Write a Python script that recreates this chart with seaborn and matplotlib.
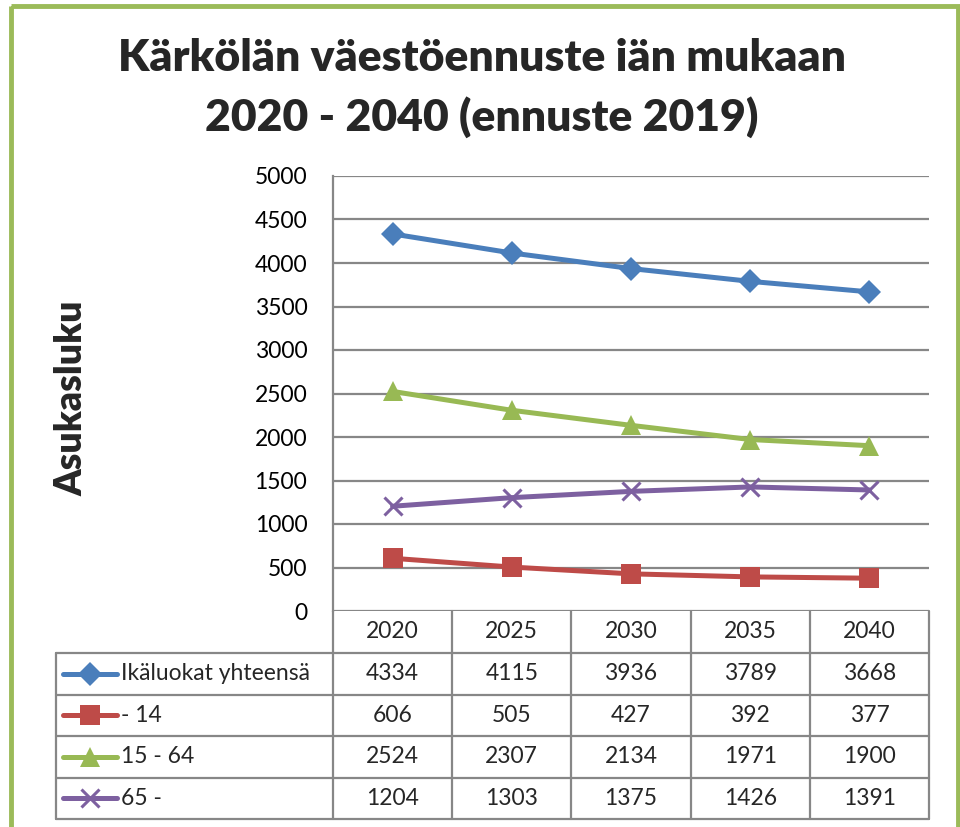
import matplotlib
matplotlib.use("Agg")
import matplotlib.pyplot as plt
import matplotlib.transforms as mtransforms
from matplotlib.patches import Rectangle
import seaborn as sns
import pandas as pd

# Données
years = [2020, 2025, 2030, 2035, 2040]
series_names = ["Ikäluokat yhteensä", "- 14", "15 - 64", "65 -"]
total = [4334, 4115, 3936, 3789, 3668]
age_0_14 = [606, 505, 427, 392, 377]
age_15_64 = [2524, 2307, 2134, 1971, 1900]
age_65 = [1204, 1303, 1375, 1426, 1391]
y_ticks = [0, 500, 1000, 1500, 2000, 2500, 3000, 3500, 4000, 4500, 5000]
title_lines = ["Kärkölän väestöennuste iän mukaan", "2020 - 2040 (ennuste 2019)"]
y_label = "Asukasluku"

colors = ["#4A7EBB", "#BE4B48", "#98B954", "#7D60A0"]
markers = ["D", "s", "^", "x"]
marker_sizes = [12, 14, 14, 13]

values = [total, age_0_14, age_15_64, age_65]
df = pd.DataFrame({
    "year": [y for _ in series_names for y in years],
    "serie": [s for s in series_names for _ in years],
    "value": [v for vals in values for v in vals],
})

sns.set_style("white")
plt.rcParams["font.family"] = ["Lato", "DejaVu Sans"]

W, H = 960, 827
fig = plt.figure(figsize=(W / 100, H / 100), dpi=100)

# zone du graphique (pixels -> fractions)
ax_l, ax_r, ax_t, ax_b = 333, 929, 176, 611
ax = fig.add_axes([ax_l / W, 1 - ax_b / H, (ax_r - ax_l) / W, (ax_b - ax_t) / H])

for name, col, mk, ms in zip(series_names, colors, markers, marker_sizes):
    sub = df[df["serie"] == name]
    sns.lineplot(data=sub, x="year", y="value", ax=ax, color=col, lw=3.6,
                 marker=mk, markersize=ms, markeredgecolor=col,
                 markeredgewidth=2.2 if mk == "x" else 0, legend=False, zorder=3)

ax.set_xlim(years[0] - 2.5, years[-1] + 2.5)
ax.set_ylim(y_ticks[0], y_ticks[-1])
ax.set_yticks(y_ticks)
ax.set_xticks([])
ax.set_xlabel("")
ax.set_ylabel("")
ax.grid(axis="y", color="#878787", lw=1.6)
ax.set_axisbelow(True)
for side in ["top", "right", "bottom"]:
    ax.spines[side].set_visible(False)
ax.spines["left"].set_color("#878787")
ax.spines["left"].set_linewidth(1.6)
ax.tick_params(axis="y", length=0, pad=18.5, labelsize=16.5, labelcolor="black")

# calque en pixels pour le tableau de données
ov = fig.add_axes([0, 0, 1, 1], zorder=5)
ov.set_xlim(0, W)
ov.set_ylim(H, 0)
ov.axis("off")
ov.patch.set_alpha(0)

gc, glw = "#878787", 1.6
row_h = 41.5
header_top = ax_b
header_bot = 653
leg_l = 56
rows_y = [header_bot + i * row_h for i in range(len(series_names) + 1)]
col_edges = [ax_l + i * (ax_r - ax_l) / len(years) for i in range(len(years) + 1)]

# lignes du tableau
for x in col_edges:
    ov.plot([x, x], [header_top, rows_y[-1]], color=gc, lw=glw)
ov.plot([leg_l, leg_l], [rows_y[0], rows_y[-1]], color=gc, lw=glw)
for y in rows_y:
    ov.plot([leg_l, ax_r], [y, y], color=gc, lw=glw)

xtrans = mtransforms.blended_transform_factory(ax.transData, ov.transData)
fs = 16.5
for yr in years:
    ov.text(yr, (header_top + header_bot) / 2, str(yr), transform=xtrans,
            ha="center", va="center", fontsize=fs)
for i, (name, col, mk, ms, vals) in enumerate(zip(series_names, colors, markers, marker_sizes, values)):
    yc = rows_y[i] + row_h / 2
    ov.plot([63, 117], [yc, yc], color=col, lw=3.6, solid_capstyle="round")
    ov.plot([90], [yc], marker=mk, markersize=ms, color=col, markeredgecolor=col,
            markeredgewidth=2.2 if mk == "x" else 0)
    ov.text(121, yc, name, ha="left", va="center", fontsize=fs)
    for yr, v in zip(years, vals):
        ov.text(yr, yc, str(v), transform=xtrans, ha="center", va="center", fontsize=fs)

# titre et axe y
ov.text(482, 58, title_lines[0], ha="center", va="center", fontsize=32, fontweight="heavy")
ov.text(482, 117, title_lines[1], ha="center", va="center", fontsize=32, fontweight="heavy")
ov.text(71, 398, y_label, rotation=90, ha="center", va="center", fontsize=27, fontweight="heavy")

# cadre vert
ov.add_patch(Rectangle((10.5, 5.5), 947.5, 900, fill=False, edgecolor="#9BBB59", lw=3.5, clip_on=False))

fig.savefig("out.png", dpi=100)
